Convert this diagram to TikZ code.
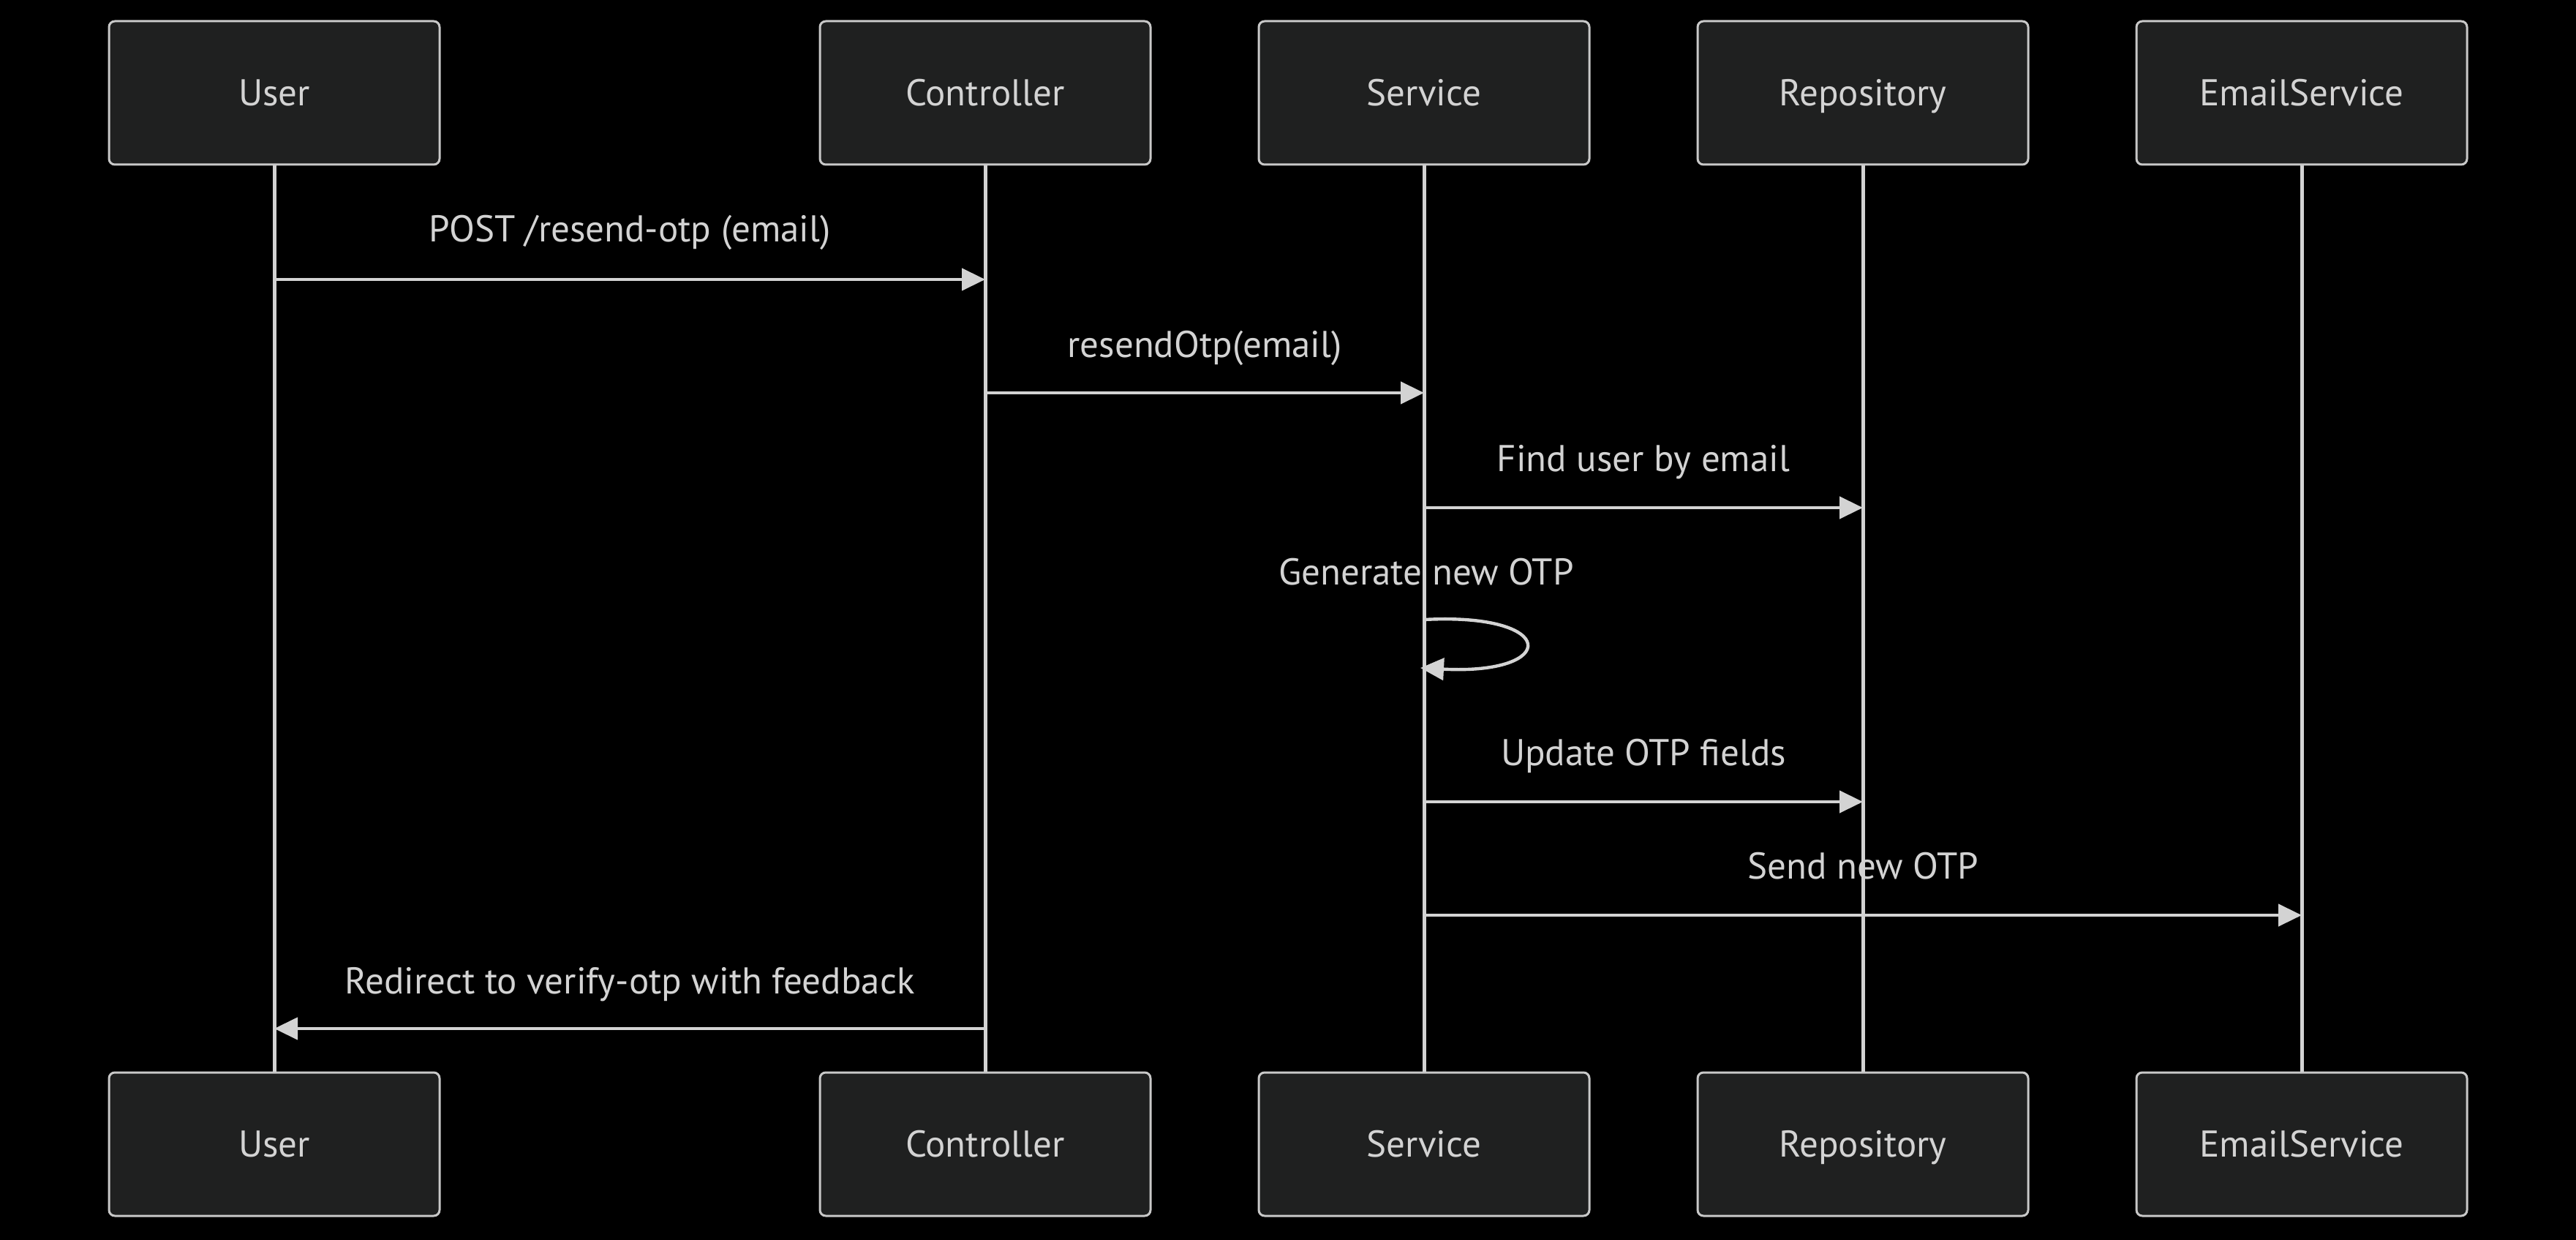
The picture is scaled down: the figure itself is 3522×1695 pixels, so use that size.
\documentclass[tikz,border=0pt]{standalone}
\usepackage{fontspec}
\setmainfont{PT Sans}
\usetikzlibrary{arrows.meta}
\definecolor{bgc}{RGB}{0,0,0}
\definecolor{boxfill}{RGB}{31,32,32}
\definecolor{boxline}{RGB}{200,200,200}
\definecolor{ln}{RGB}{211,211,211}
\definecolor{txt}{RGB}{211,211,211}
\begin{document}
\begin{tikzpicture}[x=0.5pt,y=-0.5pt,
 actor/.style={draw=boxline, fill=boxfill, line width=1.5pt, rounded corners=4pt, minimum width=226pt, minimum height=98pt, text=txt, font=\fontsize{25.5}{30}\selectfont, inner sep=0pt, text height=17.8pt, text depth=0pt},
 life/.style={draw=ln, line width=2.5pt},
 msg/.style={draw=ln, line width=2.2pt, -{Triangle[length=16pt,width=15pt]}},
 lbl/.style={text=txt, font=\fontsize{25.5}{30}\selectfont, anchor=base, inner sep=0pt}]
\fill[bgc] (0,0) rectangle (3522,1695);
\useasboundingbox (0,0) rectangle (3522,1695);
% lifelines first
\foreach \n/\x in {u/375,c/1347,s/1947,r/2547,e/3147}{
  \coordinate (\n top) at (\x,225);
  \coordinate (\n bot) at (\x,1466);
  \draw[life] (\n top) -- (\n bot);
}
% actors
\node[actor] (uT) at (375,127) {User};
\node[actor] (cT) at (1347,127) {Controller};
\node[actor] (sT) at (1947,127) {Service};
\node[actor] (rT) at (2547,127) {Repository};
\node[actor] (eT) at (3147,127) {EmailService};
\node[actor] (uB) at (375,1564) {User};
\node[actor] (cB) at (1347,1564) {Controller};
\node[actor] (sB) at (1947,1564) {Service};
\node[actor] (rB) at (2547,1564) {Repository};
\node[actor] (eB) at (3147,1564) {EmailService};
% message endpoints
\coordinate (m1a) at (375,382);  \coordinate (m1b) at (1347,382);
\coordinate (m2a) at (1347,537); \coordinate (m2b) at (1947,537);
\coordinate (m3a) at (1947,694); \coordinate (m3b) at (2547,694);
\coordinate (m4a) at (1947,847); \coordinate (m4b) at (1942,913);
\coordinate (m5a) at (1947,1096); \coordinate (m5b) at (2547,1096);
\coordinate (m6a) at (1947,1251); \coordinate (m6b) at (3147,1251);
\coordinate (m7a) at (1347,1406); \coordinate (m7b) at (375,1406);
% labels
\node[lbl] (l1) at (861,331) {POST /resend-otp (email)};
\node[lbl] (l2) at (1647,489) {resendOtp(email)};
\node[lbl] (l3) at (2247,644) {Find user by email};
\node[lbl] (l4) at (1950,799) {Generate new OTP};
\node[lbl] (l5) at (2247,1046) {Update OTP fields};
\node[lbl] (l6) at (2547,1201) {Send new OTP};
\node[lbl] (l7) at (861,1358) {Redirect to verify-otp with feedback};
% messages
\draw[msg] (m1a) -- (m1b);
\draw[msg] (m2a) -- (m2b);
\draw[msg] (m3a) -- (m3b);
\draw[msg] (m4a) .. controls (2132,837) and (2132,923) .. (m4b);
\draw[msg] (m5a) -- (m5b);
\draw[msg] (m6a) -- (m6b);
\draw[msg] (m7a) -- (m7b);
\end{tikzpicture}
\end{document}
